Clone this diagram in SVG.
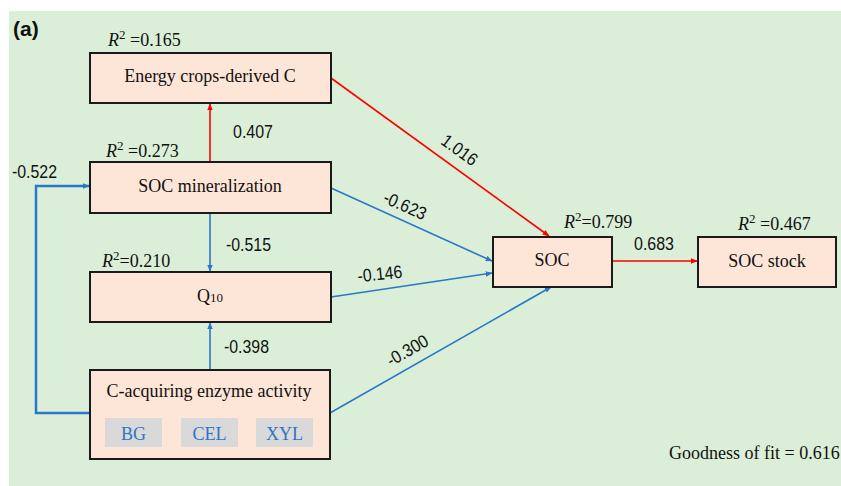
<svg xmlns="http://www.w3.org/2000/svg" width="841" height="486" viewBox="0 0 841 486">
<style>
.box{fill:#fde5d7;stroke:#1a1a1a;stroke-width:2}
.sub{fill:#d9d9d9}
.t{font-family:"Liberation Serif",serif;font-size:18px;fill:#111}
.st{font-family:"Liberation Serif",serif;font-size:18px;fill:#2e75c6}
.n{font-family:"Liberation Sans",Arial,sans-serif;font-size:18px;fill:#111}
.r{stroke:#ff0000;stroke-width:1.6;fill:none}
.b{stroke:#2a78c9;stroke-width:1.6;fill:none}
</style>
<defs>
<marker id="ar" viewBox="0 0 10 10" refX="9" refY="5" markerWidth="7" markerHeight="7" markerUnits="userSpaceOnUse" orient="auto"><path d="M0,1 L10,5 L0,9z" fill="#ff0000"/></marker>
<marker id="ab" viewBox="0 0 10 10" refX="9" refY="5" markerWidth="7" markerHeight="7" markerUnits="userSpaceOnUse" orient="auto"><path d="M0,1 L10,5 L0,9z" fill="#2a78c9"/></marker>
</defs>
<rect x="0" y="0" width="841" height="486" fill="#ffffff"/>
<rect x="9" y="11" width="832" height="475" fill="#dbefd8"/>
<text x="13" y="36" font-family="Liberation Sans,Arial,sans-serif" font-size="21" font-weight="bold" fill="#111">(a)</text>

<g id="connectors">
<line class="r" x1="210" y1="162" x2="210" y2="104" marker-end="url(#ar)"/>
<text class="n" x="233" y="138" textLength="40" lengthAdjust="spacingAndGlyphs">0.407</text>
<line class="r" x1="331" y1="78" x2="549" y2="236" marker-end="url(#ar)"/>
<text class="n" transform="translate(456,155) rotate(36)" x="-20" textLength="40" lengthAdjust="spacingAndGlyphs">1.016</text>
<line class="b" x1="331" y1="188" x2="492" y2="261" marker-end="url(#ab)"/>
<text class="n" transform="translate(402,211) rotate(24)" x="-22" textLength="45" lengthAdjust="spacingAndGlyphs">-0.623</text>
<line class="b" x1="331" y1="297" x2="492" y2="273" marker-end="url(#ab)"/>
<text class="n" transform="translate(380,280) rotate(-6)" x="-22" textLength="45" lengthAdjust="spacingAndGlyphs">-0.146</text>
<line class="b" x1="330" y1="413" x2="551" y2="287" marker-end="url(#ab)"/>
<text class="n" transform="translate(410,356) rotate(-30)" x="-22" textLength="45" lengthAdjust="spacingAndGlyphs">-0.300</text>
<line class="b" x1="210" y1="213" x2="210" y2="271" marker-end="url(#ab)"/>
<text class="n" x="226" y="251" textLength="45" lengthAdjust="spacingAndGlyphs">-0.515</text>
<line class="b" x1="210" y1="370" x2="210" y2="323" marker-end="url(#ab)"/>
<text class="n" x="224" y="353" textLength="45" lengthAdjust="spacingAndGlyphs">-0.398</text>
<path d="M90,413 H36 V186 H89" stroke="#2a78c9" stroke-width="2.5" fill="none" marker-end="url(#ab)"/>
<text class="n" x="12" y="178" textLength="45" lengthAdjust="spacingAndGlyphs">-0.522</text>
<line class="r" x1="612" y1="261" x2="697" y2="261" marker-end="url(#ar)"/>
<text class="n" x="634" y="250" textLength="40" lengthAdjust="spacingAndGlyphs">0.683</text>
</g>

<g id="energy">
<rect class="box" x="90" y="53" width="241" height="50"/>
<text class="t" x="210" y="82" text-anchor="middle">Energy crops-derived C</text>
<text class="t" x="108" y="46"><tspan font-style="italic">R</tspan><tspan font-size="13" dy="-7">2</tspan><tspan dy="7"> =0.165</tspan></text>
</g>
<g id="socmin">
<rect class="box" x="90" y="162" width="241" height="51"/>
<text class="t" x="210" y="192" text-anchor="middle">SOC mineralization</text>
<text class="t" x="106" y="157"><tspan font-style="italic">R</tspan><tspan font-size="13" dy="-7">2</tspan><tspan dy="7"> =0.273</tspan></text>
</g>
<g id="q10">
<rect class="box" x="90" y="272" width="241" height="50"/>
<text class="t" x="210" y="302" text-anchor="middle">Q<tspan font-size="13">10</tspan></text>
<text class="t" x="102" y="267"><tspan font-style="italic">R</tspan><tspan font-size="13" dy="-7">2</tspan><tspan dy="7">=0.210</tspan></text>
</g>
<g id="enzyme">
<rect class="box" x="90" y="370" width="240" height="89"/>
<text class="t" x="209" y="397" text-anchor="middle">C-acquiring enzyme activity</text>
<rect class="sub" x="105" y="418" width="57" height="29"/>
<rect class="sub" x="181" y="418" width="57" height="29"/>
<rect class="sub" x="256" y="418" width="57" height="29"/>
<text class="st" x="133.5" y="440" text-anchor="middle">BG</text>
<text class="st" x="209.5" y="440" text-anchor="middle">CEL</text>
<text class="st" x="284.5" y="440" text-anchor="middle">XYL</text>
</g>
<g id="soc">
<rect class="box" x="493" y="237" width="119" height="50"/>
<text class="t" x="552" y="266" text-anchor="middle">SOC</text>
<text class="t" x="564" y="228"><tspan font-style="italic">R</tspan><tspan font-size="13" dy="-7">2</tspan><tspan dy="7">=0.799</tspan></text>
</g>
<g id="socstock">
<rect class="box" x="698" y="237" width="138" height="50"/>
<text class="t" x="767" y="267" text-anchor="middle">SOC stock</text>
<text class="t" x="738" y="230"><tspan font-style="italic">R</tspan><tspan font-size="13" dy="-7">2</tspan><tspan dy="7">  =0.467</tspan></text>
</g>
<text class="t" x="669" y="459">Goodness of fit = 0.616</text>
</svg>
